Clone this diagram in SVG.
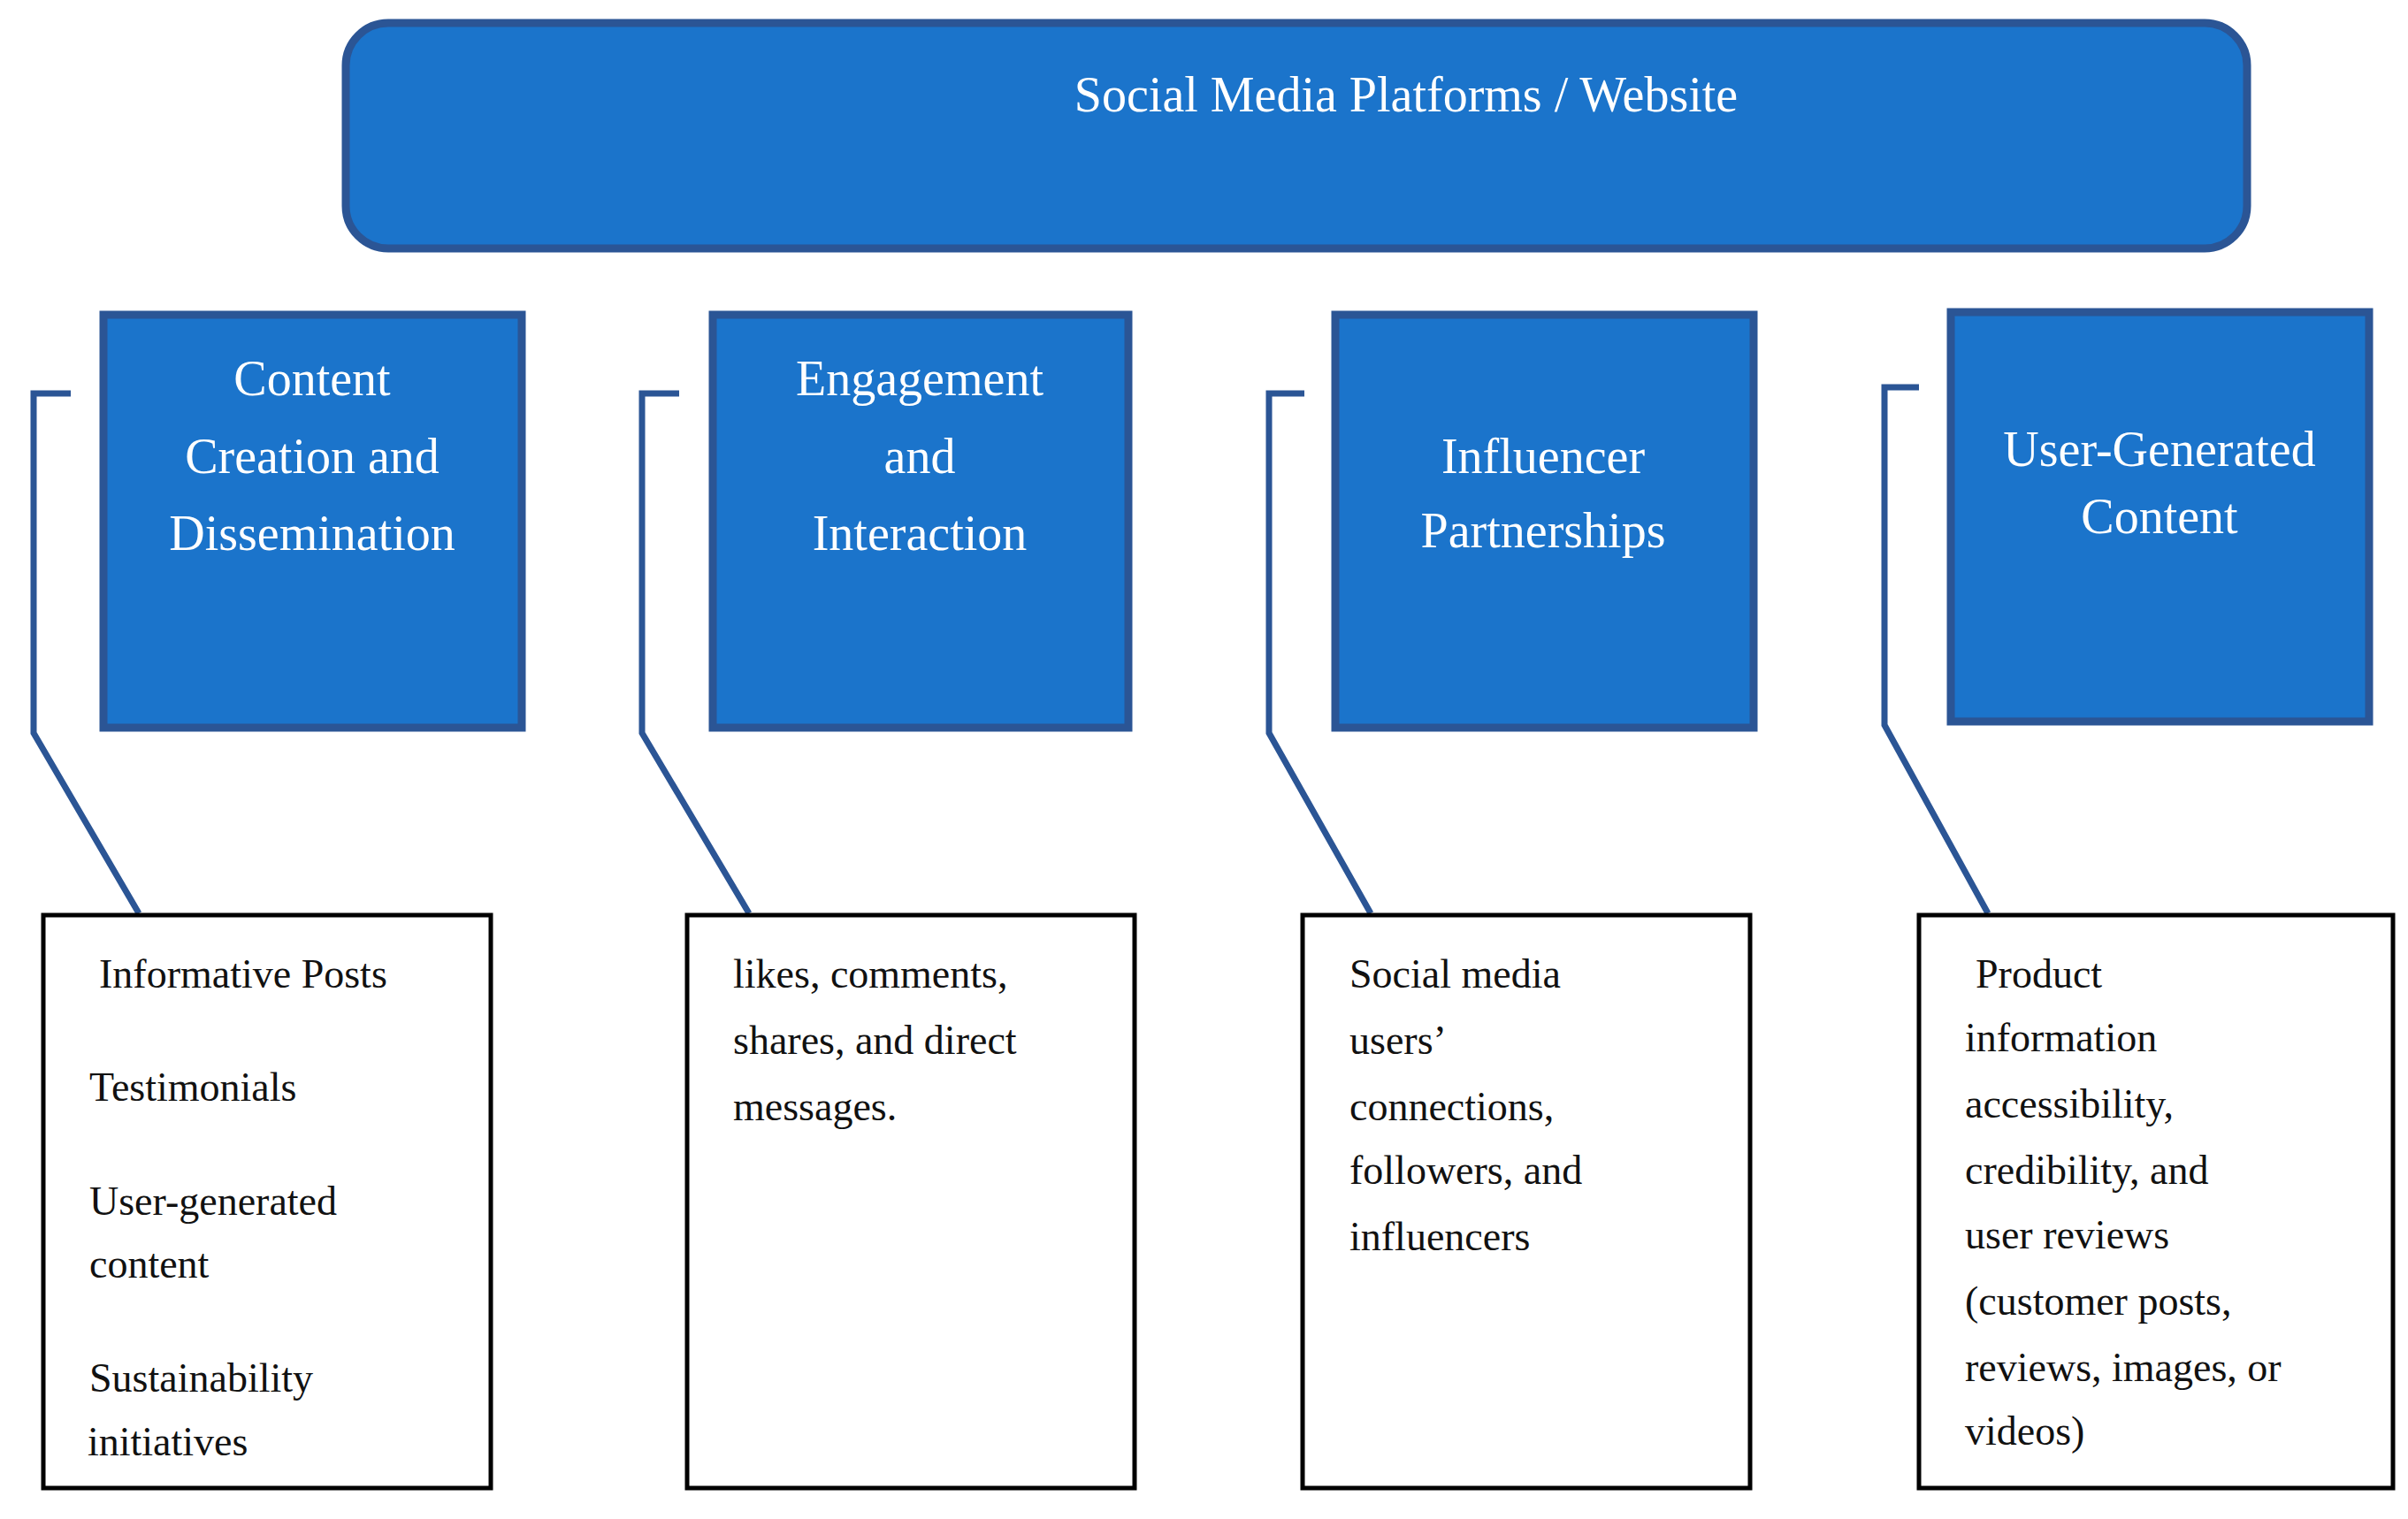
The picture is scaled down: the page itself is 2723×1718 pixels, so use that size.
<svg xmlns="http://www.w3.org/2000/svg" width="2723" height="1718" viewBox="0 0 2723 1718">
<style>
.blue{fill:#1b74cb;stroke:#2b5595;stroke-width:9}
.white{fill:#fff;stroke:#000;stroke-width:5}
.conn{fill:none;stroke:#2b5595;stroke-width:7}
.bt{font-family:"Liberation Serif",serif;fill:#fff;text-anchor:middle;font-size:56px}
.wt{font-family:"Liberation Serif",serif;fill:#111;font-size:46px}
</style>
<rect width="2723" height="1718" fill="#fff"/>
<g id="connectors">
<path class="conn" d="M80,445 H38 V829 L157,1033"/>
<path class="conn" d="M768,445 H726 V829 L847,1033"/>
<path class="conn" d="M1475,445 H1435 V829 L1550,1033"/>
<path class="conn" d="M2170,438 H2131 V820 L2248,1033"/>
</g>
<g id="top"><rect class="blue" x="391" y="26" width="2150" height="255" rx="48"/>
<text class="bt" x="1590" y="126">Social Media Platforms / Website</text></g>
<g id="n1"><rect class="blue" x="117" y="356" width="473" height="467"/>
<text class="bt" x="353" y="447">Content</text><text class="bt" x="353" y="535">Creation and</text><text class="bt" x="353" y="622">Dissemination</text></g>
<g id="n2"><rect class="blue" x="806" y="356" width="470" height="467"/>
<text class="bt" x="1040" y="447">Engagement</text><text class="bt" x="1040" y="535">and</text><text class="bt" x="1040" y="622">Interaction</text></g>
<g id="n3"><rect class="blue" x="1510" y="356" width="473" height="467"/>
<text class="bt" x="1745" y="535">Influencer</text><text class="bt" x="1745" y="619">Partnerships</text></g>
<g id="n4"><rect class="blue" x="2206" y="353" width="473" height="463"/>
<text class="bt" x="2442" y="527" font-size="50">User-Generated</text><text class="bt" x="2442" y="603" font-size="50">Content</text></g>
<g id="b1"><rect class="white" x="49" y="1035" width="506" height="648"/>
<text class="wt" x="112" y="1117">Informative Posts</text><text class="wt" x="101" y="1245">Testimonials</text><text class="wt" x="101" y="1374">User-generated</text><text class="wt" x="101" y="1445">content</text><text class="wt" x="101" y="1574">Sustainability</text><text class="wt" x="99" y="1646">initiatives</text></g>
<g id="b2"><rect class="white" x="777" y="1035" width="506" height="648"/>
<text class="wt" x="829" y="1117">likes, comments,</text><text class="wt" x="829" y="1192">shares, and direct</text><text class="wt" x="829" y="1267">messages.</text></g>
<g id="b3"><rect class="white" x="1473" y="1035" width="506" height="648"/>
<text class="wt" x="1526" y="1117">Social media</text><text class="wt" x="1526" y="1192">users’</text><text class="wt" x="1526" y="1267">connections,</text><text class="wt" x="1526" y="1339">followers, and</text><text class="wt" x="1526" y="1414">influencers</text></g>
<g id="b4"><rect class="white" x="2170" y="1035" width="536" height="648"/>
<text class="wt" x="2234" y="1117">Product</text><text class="wt" x="2222" y="1189">information</text><text class="wt" x="2222" y="1264">accessibility,</text><text class="wt" x="2222" y="1339">credibility, and</text><text class="wt" x="2222" y="1412">user reviews</text><text class="wt" x="2222" y="1487">(customer posts,</text><text class="wt" x="2222" y="1562">reviews, images, or</text><text class="wt" x="2222" y="1634">videos)</text></g>
</svg>
